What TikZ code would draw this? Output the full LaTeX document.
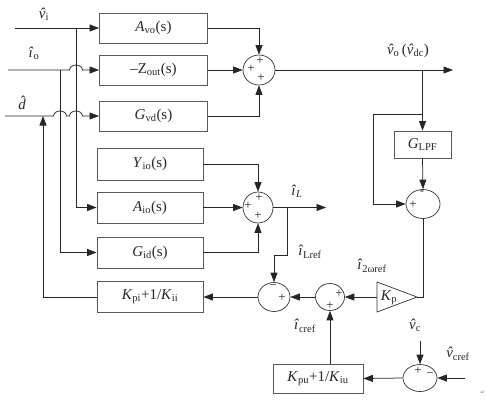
\documentclass[tikz,border=0pt]{standalone}
\usepackage{fontspec}
\setmainfont{Liberation Serif}
\newfontfamily\dejavu{DejaVu Sans}
\usetikzlibrary{arrows.meta,shapes.geometric}
\newcommand\hv[1]{\textit{\^{#1}}}
\newcommand\hatv{{\itshape\accent"02C6 v}}
\newcommand\sbs[1]{\textsubscript{#1}}
\begin{document}
\begin{tikzpicture}[x=1pt,y=-1pt,
  blk/.style={draw=black!65, line width=0.8pt, minimum width=106, minimum height=30, inner sep=0, font=\fontsize{15}{18}\selectfont, text=black!85},
  sumn/.style={draw=black!80, line width=0.7pt, ellipse, inner sep=0, minimum width=32, minimum height=30},
  sgn/.style={font=\fontsize{13}{13}\selectfont, inner sep=0, text=black!85},
  lbl/.style={font=\fontsize{15}{18}\selectfont, inner sep=0, text=black!85},
  arr/.style={-{Triangle[length=9.5pt,width=7pt]}},
  wire/.style={draw=black!85, line width=0.75pt}
]
\useasboundingbox (0,0) rectangle (487,400);
% blocks
\node[blk, minimum width=108] (avo) at (153.5,28) {\textit{A}\sbs{vo}(s)};
\node[blk, minimum width=108] (zout) at (153.5,70) {–Z\sbs{out}(s)};
\node[blk, minimum width=108] (gvd) at (153.5,116) {\textit{G}\sbs{vd}(s)};
\node[blk, minimum height=32] (yio) at (150,164) {\textit{Y}\sbs{io}(s)};
\node[blk, minimum height=31] (aio) at (150,207.5) {\textit{A}\sbs{io}(s)};
\node[blk, minimum height=31] (gid) at (150,252.5) {\textit{G}\sbs{id}(s)};
\node[blk, minimum height=31] (kpi) at (150,297) {\textit{K}\sbs{pi}+1/\textit{K}\sbs{ii}};
\node[blk, minimum width=57, minimum height=27] (glpf) at (422.5,144.5) {\textit{G}\sbs{LPF}};
\node[blk, minimum width=90, minimum height=29] (kpu) at (318,378.5) {\textit{K}\sbs{pu}+1/\textit{K}\sbs{iu}};
% sums
\node[sumn] (s1) at (259,70) {};
\node[sumn, minimum width=30, minimum height=31] (sL) at (258,207.5) {};
\node[sumn, minimum width=34, minimum height=29] (sG) at (423,204) {};
\node[sumn, minimum width=32, minimum height=29] (s3) at (274,297) {};
\node[sumn, minimum width=29, minimum height=27] (s2) at (330,297) {};
\node[sumn, minimum width=34, minimum height=27] (s4) at (420,378) {};
% Kp triangle
\coordinate (kpB) at (377,297);
\coordinate (kpA) at (417,297);
\draw[draw=black!80, line width=0.7pt] (377,282) -- (kpA) -- (377,312) -- cycle;
\node[lbl] (kplbl) at (389,298) {\textit{K}\sbs{p}};
% signs
\node[sgn] (g1) at (260,61) {+};
\node[sgn] (g2) at (251,69) {+};
\node[sgn] (g3) at (261,78) {+};
\node[sgn] (g4) at (259,198) {+};
\node[sgn] (g5) at (248,206) {+};
\node[sgn] (g6) at (258,216) {+};
\node[sgn] (g7) at (422,193) {-};
\node[sgn] (g8) at (413,205) {+};
\node[sgn] (g9) at (273,287) {−};
\node[sgn] (g10) at (282,298) {+};
\node[sgn] (g11) at (339,294) {+};
\node[sgn] (g12) at (330,306) {+};
\node[sgn] (g13) at (418,371) {+};
\node[sgn] (g14) at (430,375) {−};
% free ends
\coordinate (vi) at (15,28);
\coordinate (io) at (8,70);
\coordinate (dd) at (5,116);
\coordinate (t1) at (76,28);
\coordinate (t2) at (60,70);
\coordinate (dj) at (43,116);
\coordinate (vo) at (453,70);
\coordinate (b1) at (422.5,70);
\coordinate (b2) at (422.5,114);
\coordinate (b2l) at (373,114);
\coordinate (iL) at (326,207.5);
\coordinate (b3) at (287,207.5);
\coordinate (b3d) at (287,255);
\coordinate (vcref) at (465,378);
\coordinate (vc) at (420,341);
% input wires
\draw[wire,arr] (vi) -- (avo.west);
\draw[wire,arr] (io) -- (69.5,70) arc[start angle=180,end angle=360,x radius=6.5,y radius=5] -- (zout.west);
\draw[wire,arr] (dd) -- (53.5,116) arc[start angle=180,end angle=360,x radius=6.5,y radius=5]
   -- (69.5,116) arc[start angle=180,end angle=360,x radius=6.5,y radius=5] -- (gvd.west);
\draw[wire,arr] (t1) |- (aio.west);
\draw[wire,arr] (t2) |- (gid.west);
\draw[wire,arr] (kpi.west) -| (dj);
% top sum
\draw[wire,arr] (avo.east) -| (s1.north);
\draw[wire,arr] (zout.east) -- (s1.west);
\draw[wire,arr] (gvd.east) -| (s1.south);
\draw[wire,arr] (s1.east) -- (vo);
\draw[wire,arr] (b1) -- (glpf.north);
\draw[wire,arr] (b2) -- (b2l) |- (sG.west);
\draw[wire,arr] (glpf.south) -- (sG.north);
\draw[wire] (sG.south) |- (kpA);
\draw[wire,arr] (kpB) -- (s2.east);
\draw[wire,arr] (s2.west) -- (s3.east);
\draw[wire,arr] (s3.west) -- (kpi.east);
% iL sum
\draw[wire,arr] (yio.east) -| (sL.north);
\draw[wire,arr] (aio.east) -- (sL.west);
\draw[wire,arr] (gid.east) -| (sL.south);
\draw[wire,arr] (sL.east) -- (iL);
\draw[wire,arr] (b3) -- (b3d) -| (s3.north);
% bottom
\draw[wire,arr] (kpu.north -| s2.south) -- (s2.south);
\draw[wire,arr] (s4.west) -- (kpu.east);
\draw[wire,arr] (vcref) -- (s4.east);
\draw[wire,arr] (vc) -- (s4.north);
% labels
\node[lbl] (lvi) at (44,14) {\hatv\sbs{i}};
\node[lbl] (lio) at (34,53) {\hv{i}\sbs{o}};
\node[lbl] (ld) at (25,103) {\hv{d}};
\node[lbl] (lvo) at (408,51) {\hatv\sbs{o}\,(\hatv\sbs{dc})};
\node[lbl] (liL) at (297,191) {\hv{i}\textsubscript{\textit{L}}};
\node[lbl] (lLref) at (310,252) {\hv{i}\sbs{Lref}};
\node[lbl] (l2w) at (372,266) {\hv{i}\sbs{2ωref}};
\node[lbl] (lcref) at (305,326) {\hv{i}\sbs{cref}};
\node[lbl] (lvc) at (415,325) {\hatv\sbs{c}};
\node[lbl] (lvcref) at (458,354) {\hatv\sbs{cref}};
\node[inner sep=0, text=black!50, font=\dejavu\fontsize{6}{6}\selectfont] (ret) at (483,393) {↵};
\end{tikzpicture}
\end{document}
